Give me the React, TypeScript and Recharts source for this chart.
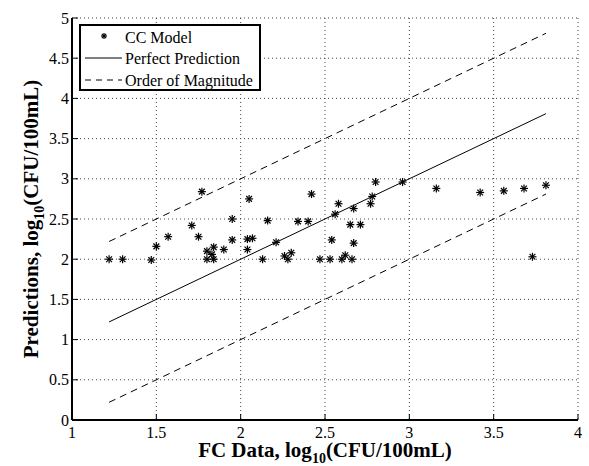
import React from "react";
import { ScatterChart, Scatter, XAxis, YAxis, CartesianGrid } from "recharts";

// FC data vs CC model predictions, both log10(CFU/100mL)
const fcData = [
  1.22, 1.3, 1.47, 1.5, 1.57, 1.71, 1.77, 1.75, 1.8, 1.8, 1.83, 1.84, 1.84, 1.9, 1.95, 1.95, 2.04,
  2.04, 2.07, 2.05, 2.13, 2.16, 2.21, 2.26, 2.28, 2.3, 2.34, 2.4, 2.42, 2.47, 2.53, 2.54, 2.56,
  2.58, 2.6, 2.62, 2.65, 2.66, 2.67, 2.67, 2.71, 2.77, 2.78, 2.8, 2.96, 3.16, 3.42, 3.56, 3.68,
  3.73, 3.81,
];
const ccModel = [
  2.0, 2.0, 1.99, 2.16, 2.28, 2.42, 2.84, 2.28, 2.1, 2.0, 2.06, 2.15, 2.0, 2.12, 2.5, 2.24, 2.12,
  2.25, 2.26, 2.75, 2.0, 2.48, 2.21, 2.04, 2.0, 2.08, 2.47, 2.47, 2.81, 2.0, 2.0, 2.24, 2.56, 2.69,
  2.0, 2.05, 2.43, 2.0, 2.63, 2.2, 2.43, 2.69, 2.78, 2.96, 2.96, 2.88, 2.83, 2.85, 2.88, 2.03, 2.92,
];
const xTicks = [1, 1.5, 2, 2.5, 3, 3.5, 4];
const yTicks = [0, 0.5, 1, 1.5, 2, 2.5, 3, 3.5, 4, 4.5, 5];

const points = fcData.map((x, i) => ({ x, y: ccModel[i] }));
const lo = Math.min(...fcData);
const hi = Math.max(...fcData);
const perfect = [{ x: lo, y: lo }, { x: hi, y: hi }];
const upper = [{ x: lo, y: lo + 1 }, { x: hi, y: hi + 1 }];
const lower = [{ x: lo, y: lo - 1 }, { x: hi, y: hi - 1 }];

const serif = "Liberation Serif, Times New Roman, serif";

const Star = ({ cx, cy, r = 4 }: any) => {
  const d = r * 0.72;
  return (
    <g stroke="#000" strokeWidth={1.2}>
      <line x1={cx - r} y1={cy} x2={cx + r} y2={cy} />
      <line x1={cx} y1={cy - r} x2={cx} y2={cy + r} />
      <line x1={cx - d} y1={cy - d} x2={cx + d} y2={cy + d} />
      <line x1={cx - d} y1={cy + d} x2={cx + d} y2={cy - d} />
    </g>
  );
};

const NoDot = () => <g />;

const BottomTick = ({ x, y, payload }: any) => (
  <g>
    <line x1={x} y1={y} x2={x} y2={y - 6} stroke="#000" />
    <text x={x} y={y + 18} textAnchor="middle" style={{ fontFamily: serif, fontSize: 16 }} fill="#000">
      {payload.value}
    </text>
  </g>
);

const TopTick = ({ x, y }: any) => <line x1={x} y1={y} x2={x} y2={y + 6} stroke="#000" />;

const LeftTick = ({ x, y, payload }: any) => (
  <g>
    <line x1={x} y1={y} x2={x + 6} y2={y} stroke="#000" />
    <text x={x - 3} y={y + 5.5} textAnchor="end" style={{ fontFamily: serif, fontSize: 16 }} fill="#000">
      {payload.value}
    </text>
  </g>
);

const RightTick = ({ x, y }: any) => <line x1={x} y1={y} x2={x - 6} y2={y} stroke="#000" />;

const XTitle = ({ viewBox }: any) => {
  const cx = viewBox.x + viewBox.width / 2;
  return (
    <text x={cx} y={457} textAnchor="middle" style={{ fontFamily: serif, fontSize: 21, fontWeight: "bold" }}>
      FC Data, log
      <tspan style={{ fontSize: 14 }} dy={6}>10</tspan>
      <tspan dy={-6}>(CFU/100mL)</tspan>
    </text>
  );
};

const YTitle = ({ viewBox }: any) => {
  const cy = viewBox.y + viewBox.height / 2;
  return (
    <text
      x={0}
      y={0}
      transform={`translate(38, ${cy}) rotate(-90)`}
      textAnchor="middle"
      style={{ fontFamily: serif, fontSize: 21, fontWeight: "bold" }}
    >
      Predictions, log
      <tspan style={{ fontSize: 14 }} dy={6}>10</tspan>
      <tspan dy={-6}>(CFU/100mL)</tspan>
    </text>
  );
};

const LegendBox = () => (
  <div
    style={{
      position: "absolute",
      left: 79,
      top: 24,
      width: 178,
      height: 63,
      border: "2px solid #000",
      background: "#fff",
    }}
  >
    <svg width={178} height={63} style={{ position: "absolute", left: 0, top: 0, overflow: "visible" }}>
      <Star cx={23} cy={10} r={3} />
      <line x1={4} y1={32} x2={41} y2={32} stroke="#000" />
      <line x1={4} y1={54} x2={41} y2={54} stroke="#000" strokeDasharray="6 5" />
      <g style={{ fontFamily: serif, fontSize: 16 }}>
        <text x={44} y={17}>CC Model</text>
        <text x={44} y={38}>Perfect Prediction</text>
        <text x={44} y={59.5}>Order of Magnitude</text>
      </g>
    </svg>
  </div>
);

export default function App() {
  return (
    <div style={{ position: "absolute", left: 0, top: 0, width: 589, height: 466, background: "#fff" }}>
      <ScatterChart width={589} height={466} margin={{ top: 18, right: 11, bottom: 0, left: 0 }}>
        <CartesianGrid stroke="#444" strokeDasharray="1 3" />
        <XAxis
          dataKey="x"
          type="number"
          domain={[1, 4]}
          ticks={xTicks}
          interval={0}
          height={46}
          tickSize={0}
          tickMargin={0}
          tickLine={false}
          axisLine={{ stroke: "#000", strokeWidth: 2 }}
          tick={<BottomTick />}
          label={<XTitle />}
        />
        <XAxis
          xAxisId="top"
          orientation="top"
          type="number"
          domain={[1, 4]}
          ticks={xTicks}
          interval={0}
          height={0}
          tickSize={0}
          tickMargin={0}
          tickLine={false}
          axisLine={{ stroke: "#000", strokeWidth: 2 }}
          tick={<TopTick />}
        />
        <YAxis
          dataKey="y"
          type="number"
          domain={[0, 5]}
          ticks={yTicks}
          interval={0}
          width={72}
          tickSize={0}
          tickMargin={0}
          tickLine={false}
          axisLine={{ stroke: "#000", strokeWidth: 2 }}
          tick={<LeftTick />}
          label={<YTitle />}
        />
        <YAxis
          yAxisId="right"
          orientation="right"
          type="number"
          domain={[0, 5]}
          ticks={yTicks}
          interval={0}
          width={0}
          tickSize={0}
          tickMargin={0}
          tickLine={false}
          axisLine={{ stroke: "#000", strokeWidth: 2 }}
          tick={<RightTick />}
        />
        <Scatter data={upper} line={{ stroke: "#000", strokeWidth: 1, strokeDasharray: "7 5" }} shape={<NoDot />} isAnimationActive={false} />
        <Scatter data={lower} line={{ stroke: "#000", strokeWidth: 1, strokeDasharray: "7 5" }} shape={<NoDot />} isAnimationActive={false} />
        <Scatter data={perfect} line={{ stroke: "#000", strokeWidth: 1 }} shape={<NoDot />} isAnimationActive={false} />
        <Scatter data={points} shape={<Star />} isAnimationActive={false} />
      </ScatterChart>
      <LegendBox />
    </div>
  );
}
